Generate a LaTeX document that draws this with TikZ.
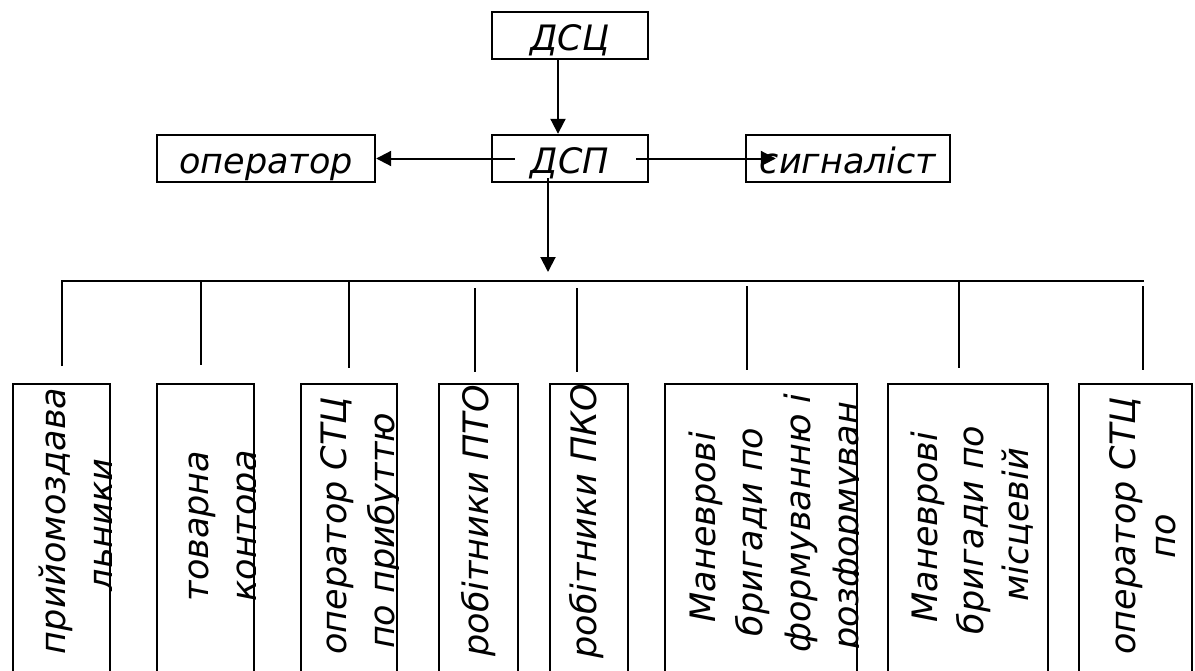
\documentclass[tikz,border=0pt]{standalone}
\usepackage{fontspec}
\newfontfamily\dsf{DejaVu Sans}
\usetikzlibrary{arrows.meta,calc}
\tikzset{
  lbl/.style={font=\dsf\itshape\fontsize{35}{47}\selectfont},
  hbox/.style={lbl, draw, line width=2.4pt, inner sep=0pt, minimum height=47, text height=30, text depth=0},
  vbox/.style={draw, line width=2.4pt, inner sep=0pt, minimum height=330, anchor=north west},
  vtext/.style={lbl, rotate=90, anchor=base, inner sep=0pt},
  conn/.style={line width=2pt},
  arr/.style={conn, -{Triangle[length=15pt,width=15pt]}}
}
\begin{document}
\begin{tikzpicture}[x=1pt,y=-1pt]
\useasboundingbox (0,0) rectangle (1195,670);
\clip (0,0) rectangle (1195,670);

% top boxes
\node[hbox, minimum width=156] (dsc) at (570,35.5) {ДСЦ};
\node[hbox, minimum width=156] (dsp) at (570,158.5) {ДСП};
\node[hbox, minimum width=218] (oper) at (266,158.5) {оператор};
\node[hbox, minimum width=204] (sig) at (848,158.5) {сигналіст};

% arrows
\draw[arr] ($(dsc.south)+(-12,0)$) -- ($(dsp.north)+(-12,0)$);
\draw[arr] ($(dsp.west)+(24,0)$) -- (oper.east);
\draw[arr] ($(dsp.east)+(-13,0)$) -- ($(sig.west)+(31,0)$);
\coordinate (bustip) at (548,272);
\draw[arr] ($(dsp.south)+(-22,-5)$) -- (bustip);

% bus
\coordinate (busL) at (62,281);
\coordinate (busR) at (1144,281);
\coordinate (d1) at (62,366);
\draw[conn] (d1) -- (busL) -- (busR);
\coordinate (d2t) at (201,281); \coordinate (d2b) at (201,365);
\coordinate (d3t) at (349,281); \coordinate (d3b) at (349,368);
\coordinate (d4t) at (475,288); \coordinate (d4b) at (475,372);
\coordinate (d5t) at (577,288); \coordinate (d5b) at (577,372);
\coordinate (d6t) at (747,286); \coordinate (d6b) at (747,370);
\coordinate (d7t) at (959,281); \coordinate (d7b) at (959,368);
\coordinate (d8t) at (1143,286); \coordinate (d8b) at (1143,370);
\draw[conn] (d2t) -- (d2b);
\draw[conn] (d3t) -- (d3b);
\draw[conn] (d4t) -- (d4b);
\draw[conn] (d5t) -- (d5b);
\draw[conn] (d6t) -- (d6b);
\draw[conn] (d7t) -- (d7b);
\draw[conn] (d8t) -- (d8b);

% vertical boxes
\node[vbox, minimum width=97] (b1) at (12,383) {};
\node[vbox, minimum width=97] (b2) at (156,383) {};
\node[vbox, minimum width=96] (b3) at (300,383) {};
\node[vbox, minimum width=79] (b4) at (438,383) {};
\node[vbox, minimum width=78] (b5) at (549,383) {};
\node[vbox, minimum width=192] (b6) at (664,383) {};
\node[vbox, minimum width=160] (b7) at (887,383) {};
\node[vbox, minimum width=113] (b8) at (1078,383) {};

\begin{scope}
\clip (b1.north west) rectangle (b1.south east);
\node[vtext] (t1a) at ($(b1.north west)+(53,138)$) {прийомоздава};
\node[vtext] (t1b) at ($(b1.north west)+(101,142)$) {льники};
\end{scope}
\begin{scope}
\clip (b2.north west) rectangle (b2.south east);
\node[vtext] (t2a) at ($(b2.north west)+(52,143)$) {товарна};
\node[vtext] (t2b) at ($(b2.north west)+(100,143)$) {контора};
\end{scope}
\begin{scope}
\clip (b3.north west) rectangle (b3.south east);
\node[vtext] (t3a) at ($(b3.north west)+(46,143)$) {оператор СТЦ};
\node[vtext] (t3b) at ($(b3.north west)+(94,148)$) {по прибуттю};
\end{scope}
\begin{scope}
\clip (b4.north west) rectangle (b4.south east);
\node[vtext] (t4a) at ($(b4.north west)+(50,138)$) {робітники ПТО};
\end{scope}
\begin{scope}
\clip (b5.north west) rectangle (b5.south east);
\node[vtext] (t5a) at ($(b5.north west)+(47,138)$) {робітники ПКО};
\end{scope}
\begin{scope}
\clip (b6.north west) rectangle (b6.south east);
\node[vtext] (t6a) at ($(b6.north west)+(51,144)$) {Маневрові};
\node[vtext] (t6b) at ($(b6.north west)+(98.5,149)$) {бригади по};
\node[vtext] (t6c) at ($(b6.north west)+(146,140)$) {формуванню і};
\node[vtext] (t6d) at ($(b6.north west)+(194,143)$) {розформуван};
\end{scope}
\begin{scope}
\clip (b7.north west) rectangle (b7.south east);
\node[vtext] (t7a) at ($(b7.north west)+(50,144)$) {Маневрові};
\node[vtext] (t7b) at ($(b7.north west)+(96,147)$) {бригади по};
\node[vtext] (t7c) at ($(b7.north west)+(141,142)$) {місцевій};
\end{scope}
\begin{scope}
\clip (b8.north west) rectangle (b8.south east);
\node[vtext] (t8a) at ($(b8.north west)+(57,143)$) {оператор СТЦ};
\node[vtext] (t8b) at ($(b8.north west)+(97,153)$) {по};
\end{scope}
\end{tikzpicture}
\end{document}
